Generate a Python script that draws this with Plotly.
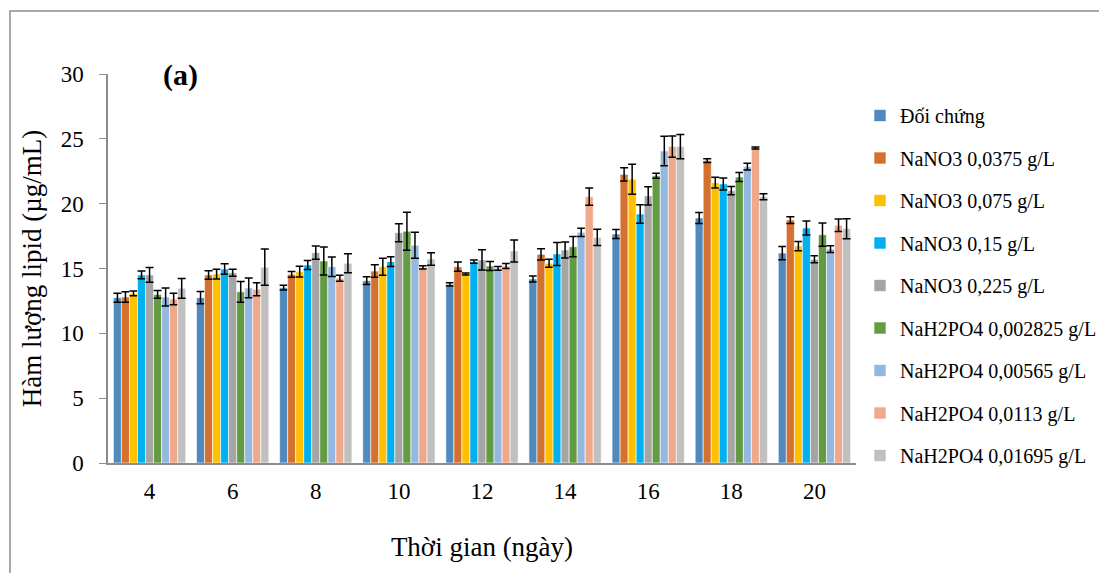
import plotly.graph_objects as go

days = ["4", "6", "8", "10", "12", "14", "16", "18", "20"]
series_names = ["Đối chứng", "NaNO3 0,0375 g/L", "NaNO3 0,075 g/L", "NaNO3 0,15 g/L",
                "NaNO3 0,225 g/L", "NaH2PO4 0,002825 g/L", "NaH2PO4 0,00565 g/L",
                "NaH2PO4 0,0113 g/L", "NaH2PO4 0,01695 g/L"]
colors = ["#5089BE", "#D5712E", "#FFC000", "#00B0F0", "#A5A5A5",
          "#629B41", "#95B8E0", "#F0A88A", "#C0C0C0"]

doi_chung = [12.75, 12.75, 13.52, 14.06, 13.78, 14.19, 17.66, 18.90, 16.19]
nano3_0375 = [12.80, 14.50, 14.55, 14.80, 15.14, 16.09, 22.26, 23.32, 18.74]
nano3_075 = [13.08, 14.57, 14.76, 15.14, 14.58, 15.40, 21.88, 21.62, 16.73]
nano3_15 = [14.50, 14.96, 15.27, 15.53, 15.53, 16.12, 19.20, 21.52, 18.12]
nano3_225 = [14.50, 14.68, 16.22, 17.76, 15.66, 16.43, 20.60, 21.00, 15.71]
nah2po4_002825 = [13.00, 13.20, 15.58, 17.87, 15.19, 16.68, 22.15, 22.06, 17.61]
nah2po4_00565 = [12.80, 13.50, 15.14, 16.79, 15.01, 17.79, 24.06, 22.85, 16.50]
nah2po4_0113 = [12.65, 13.40, 14.24, 15.09, 15.19, 20.54, 24.40, 24.29, 18.33]
nah2po4_01695 = [13.47, 15.10, 15.40, 15.73, 16.35, 17.40, 24.40, 20.54, 18.07]

err_doi_chung = [0.35, 0.47, 0.18, 0.30, 0.13, 0.23, 0.35, 0.42, 0.51]
err_nano3_0375 = [0.40, 0.33, 0.22, 0.48, 0.36, 0.44, 0.51, 0.15, 0.26]
err_nano3_075 = [0.18, 0.38, 0.41, 0.66, 0.08, 0.31, 1.16, 0.42, 0.36]
err_nano3_15 = [0.30, 0.41, 0.35, 0.37, 0.13, 0.89, 0.71, 0.46, 0.54]
err_nano3_225 = [0.57, 0.27, 0.51, 0.69, 0.78, 0.62, 0.71, 0.32, 0.27]
err_nah2po4_002825 = [0.30, 0.80, 1.08, 1.47, 0.35, 0.78, 0.19, 0.35, 0.90]
err_nah2po4_00565 = [0.70, 0.76, 0.75, 1.00, 0.14, 0.32, 1.14, 0.26, 0.26]
err_nah2po4_0113 = [0.45, 0.50, 0.23, 0.13, 0.19, 0.67, 0.82, 0.08, 0.48]
err_nah2po4_01695 = [0.76, 1.40, 0.73, 0.48, 0.84, 0.62, 0.93, 0.23, 0.77]

values = [doi_chung, nano3_0375, nano3_075, nano3_15, nano3_225,
          nah2po4_002825, nah2po4_00565, nah2po4_0113, nah2po4_01695]
errors = [err_doi_chung, err_nano3_0375, err_nano3_075, err_nano3_15, err_nano3_225,
          err_nah2po4_002825, err_nah2po4_00565, err_nah2po4_0113, err_nah2po4_01695]

FONT = "Liberation Serif, Times New Roman, serif"

fig = go.Figure()
for name, vals, errs, col in zip(series_names, values, errors, colors):
    fig.add_trace(go.Bar(
        x=days, y=vals, name=name, legendgroup=name,
        marker=dict(color=col, line=dict(color="white", width=0.6)),
        error_y=dict(type="data", array=errs, visible=True, color="black",
                     thickness=1.5, width=4),
    ))

L, R, T, B = 108, 856, 74, 463
W, H = 1099, 573

def px_x(x):
    return (x - L) / (R - L)

def px_y(y):
    return (B - y) / (B - T)

fig.update_layout(
    width=W, height=H,
    margin=dict(l=L, r=W - R, t=T, b=H - B, autoexpand=False),
    paper_bgcolor="white", plot_bgcolor="white",
    barmode="group", bargap=0.13, bargroupgap=0,
    font=dict(family=FONT, color="black", size=23),
    xaxis=dict(
        showline=True, linecolor="#8c8c8c", linewidth=2,
        ticks="", showgrid=False, tickfont=dict(size=23),
        ticklabelstandoff=6,
        title=dict(text="Thời gian (ngày)", font=dict(size=27), standoff=35),
    ),
    yaxis=dict(
        range=[0, 30], dtick=5, showline=True, linecolor="#8c8c8c", linewidth=1.5,
        ticks="outside", ticklen=7, tickcolor="#8c8c8c", showgrid=False,
        zeroline=False, tickfont=dict(size=23), ticklabelstandoff=11,
        title=dict(text="Hàm lượng lipid (µg/mL)", font=dict(size=27), standoff=11),
    ),
    legend=dict(
        x=px_x(860), y=px_y(96), xanchor="left", yanchor="top",
        font=dict(size=20, family=FONT), tracegroupgap=13.5,
        bgcolor="rgba(0,0,0,0)",
    ),
    showlegend=True,
    annotations=[dict(
        text="<b>(a)</b>", x=px_x(180), y=px_y(75), xref="paper", yref="paper",
        xanchor="center", yanchor="middle",
        showarrow=False, font=dict(size=30, family=FONT),
    )],
    shapes=[dict(
        type="rect", xref="paper", yref="paper",
        x0=px_x(10), y0=px_y(700), x1=px_x(1200), y1=px_y(11),
        line=dict(color="#8c8c8c", width=1.5), fillcolor="rgba(0,0,0,0)", layer="below",
    )],
)

fig.write_html("out.html", config={"displayModeBar": False},
               post_script="document.body.style.margin='0px';")
